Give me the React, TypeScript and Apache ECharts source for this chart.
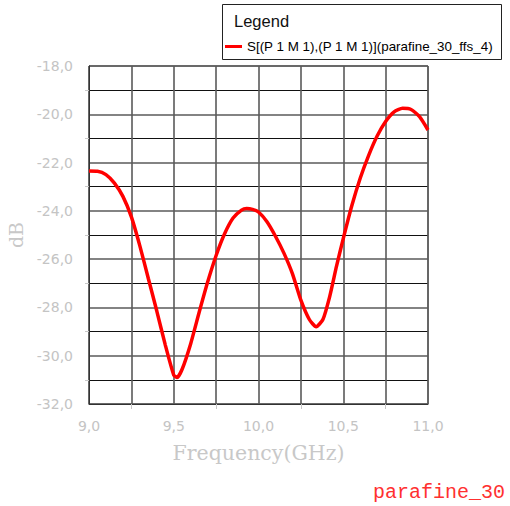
import React, { useEffect, useRef } from "react";
import * as echarts from "echarts";

// S11 reflection sweep, 9–11 GHz
const freqGHz = [
  9.0, 9.05, 9.1, 9.15, 9.2, 9.25, 9.3, 9.35, 9.4, 9.45,
  9.5, 9.52, 9.55, 9.6, 9.65, 9.7, 9.75, 9.8, 9.85, 9.9,
  9.93, 9.97, 10.0, 10.05, 10.1, 10.15, 10.2, 10.25, 10.3, 10.34,
  10.38, 10.42, 10.46, 10.5, 10.55, 10.6, 10.65, 10.7, 10.75, 10.8,
  10.85, 10.9, 10.95, 11.0,
];
const s11dB = [
  -22.35, -22.36, -22.5, -22.85, -23.4, -24.25, -25.45, -26.8, -28.15, -29.55,
  -30.8, -30.9, -30.55, -29.5, -28.2, -26.95, -25.85, -24.95, -24.3, -23.97,
  -23.9, -23.95, -24.05, -24.45, -25.05, -25.75, -26.6, -27.7, -28.5, -28.8,
  -28.5, -27.55, -26.3, -25.15, -23.8, -22.65, -21.7, -20.9, -20.3, -19.9,
  -19.75, -19.8, -20.1, -20.65,
];

const seriesName = "S[(P 1 M 1),(P 1 M 1)](parafine_30_ffs_4)";
const xTicks = { min: 9, max: 11, step: 0.5 };
const yTicks = { min: -32, max: -18, step: 2 };

const labelGray = "#c4c4c4";
const commaFmt = (v: number) => v.toFixed(1).replace(".", ",");

export default function App() {
  const ref = useRef<HTMLDivElement>(null);

  useEffect(() => {
    if (!ref.current) return;
    const chart = echarts.init(ref.current, undefined, { renderer: "svg" });
    const data = freqGHz.map((f, i) => [f, s11dB[i]]);

    chart.setOption({
      animation: false,
      backgroundColor: "#ffffff",
      grid: {
        left: 89,
        right: 82,
        top: 66,
        bottom: 102,
        containLabel: false,
        outerBoundsMode: "none",
        show: true,
        borderColor: "#333",
        borderWidth: 1,
        backgroundColor: "transparent",
      },
      legend: {
        left: 225,
        top: 40,
        padding: 0,
        icon: "rect",
        itemWidth: 17,
        itemHeight: 3,
        selectedMode: false,
        textStyle: {
          fontFamily: "Liberation Sans",
          fontSize: 13.4,
          fontWeight: "normal",
          color: "#000",
        },
        data: [seriesName],
      },
      xAxis: {
        type: "value",
        min: xTicks.min,
        max: xTicks.max,
        interval: xTicks.step,
        name: "Frequency(GHz)",
        nameLocation: "middle",
        nameGap: 38,
        nameTextStyle: {
          fontFamily: "DejaVu Serif",
          fontSize: 20.5,
          color: "#c8c8c8",
        },
        axisLine: { show: true, lineStyle: { color: "#333", width: 1 } },
        axisTick: { show: false },
        minorTick: {
          show: true,
          splitNumber: 2,
          length: 5,
          lineStyle: { color: "#c8c8c8", width: 1 },
        },
        axisLabel: {
          formatter: commaFmt,
          color: labelGray,
          fontFamily: "DejaVu Sans",
          fontSize: 14,
          margin: 15,
        },
        splitLine: { show: true, lineStyle: { color: "#5a5a5a", width: 1.6 } },
        minorSplitLine: { show: true, lineStyle: { color: "#5a5a5a", width: 1.6 } },
      },
      yAxis: {
        type: "value",
        min: yTicks.min,
        max: yTicks.max,
        interval: yTicks.step,
        name: "dB",
        nameLocation: "middle",
        nameGap: 51,
        nameRotate: 90,
        nameTextStyle: {
          fontFamily: "DejaVu Serif",
          fontSize: 19,
          color: "#c8c8c8",
        },
        axisLine: { show: true, lineStyle: { color: "#333", width: 1 } },
        axisTick: { show: false },
        minorTick: {
          show: true,
          splitNumber: 2,
          length: 4,
          lineStyle: { color: "#c8c8c8", width: 1 },
        },
        axisLabel: {
          formatter: commaFmt,
          color: labelGray,
          fontFamily: "DejaVu Sans",
          fontSize: 14,
          margin: 16,
        },
        splitLine: { show: true, lineStyle: { color: "#5a5a5a", width: 1.6 } },
        minorSplitLine: { show: true, lineStyle: { color: "#111", width: 1 } },
      },
      series: [
        {
          name: seriesName,
          type: "line",
          data,
          showSymbol: false,
          smooth: 0.2,
          lineStyle: { color: "#ff0000", width: 3.5 },
          itemStyle: { color: "#ff0000" },
          z: 5,
        },
      ],
      graphic: [
        {
          type: "rect",
          z: 0,
          shape: { x: 222.5, y: 4.5, width: 279, height: 55 },
          style: { fill: "#ffffff", stroke: "#222", lineWidth: 1 },
        },
        {
          type: "text",
          z: 1,
          x: 234,
          y: 21,
          style: {
            text: "Legend",
            fontFamily: "Liberation Sans",
            fontSize: 16.5,
            fontWeight: "normal",
            fill: "#111",
            verticalAlign: "middle",
          },
        },
        {
          type: "text",
          z: 1,
          x: 373,
          y: 492,
          style: {
            text: "parafine_30",
            fontFamily: "Liberation Mono",
            fontSize: 20,
            fontWeight: "normal",
            fill: "#ff3030",
            verticalAlign: "middle",
          },
        },
      ],
    });

    return () => chart.dispose();
  }, []);

  return (
    <div
      ref={ref}
      style={{ position: "absolute", left: 0, top: 0, width: 510, height: 506 }}
    />
  );
}
